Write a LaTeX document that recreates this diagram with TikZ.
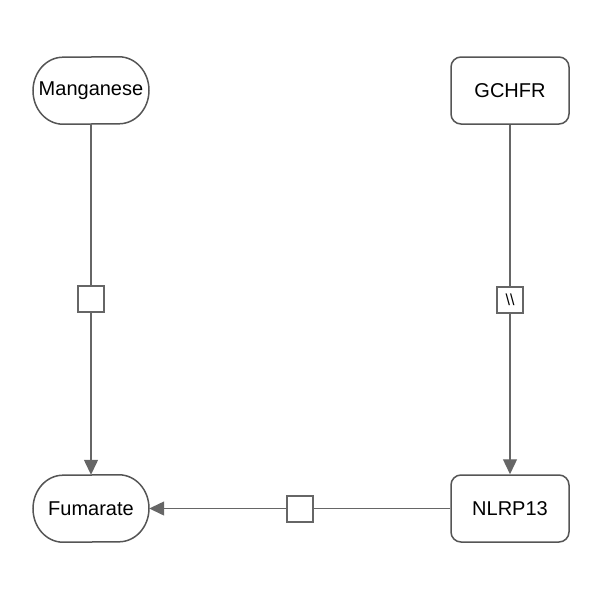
\documentclass[tikz,border=0pt]{standalone}
\usepackage{fontspec}
\setmainfont{Liberation Sans}
\usetikzlibrary{arrows.meta}
\definecolor{edgegray}{HTML}{666666}
\definecolor{bordergray}{HTML}{555555}
\begin{document}
\begin{tikzpicture}[x=1pt,y=-1pt,
  chem/.style={draw=none, minimum width=116pt, minimum height=67pt, inner sep=0pt, font=\fontsize{20}{23}\selectfont},
  chemline/.style={draw=bordergray, line width=1.5pt},
  gene/.style={draw=bordergray, line width=1.5pt, rounded corners=10pt, minimum width=118pt, minimum height=67pt, inner sep=0pt, font=\fontsize{20}{23}\selectfont},
  proc/.style={draw=edgegray, line width=2pt, fill=white, minimum width=26pt, minimum height=26pt, inner sep=0pt, font=\fontsize{16}{17}\selectfont},
  link/.style={draw=edgegray, line width=1.3pt},
  arr/.style={link, -{Triangle[length=15pt,width=14pt]}}
]
\useasboundingbox (0,0) rectangle (600,600);
\node[chem] (mn) at (91,90.5) {Manganese};
\node[gene] (gc) at (510,90.5) {GCHFR};
\node[chem] (fu) at (91,508.5) {Fumarate};
\node[gene] (nl) at (510,508.5) {NLRP13};
\draw[chemline] ([xshift=28pt]mn.north) arc[start angle=-90, end angle=90, x radius=30, y radius=33.5] -- ([xshift=-28pt]mn.south) arc[start angle=90, end angle=270, x radius=30, y radius=33.5] -- cycle;
\draw[chemline] ([xshift=28pt]fu.north) arc[start angle=-90, end angle=90, x radius=30, y radius=33.5] -- ([xshift=-28pt]fu.south) arc[start angle=90, end angle=270, x radius=30, y radius=33.5] -- cycle;
\node[proc] (p1) at (91,299) {};
\node[proc] (p2) at (510,299.5) {\textbackslash\textbackslash};
\node[proc] (p3) at (299.5,508.5) {};
\draw[link] (mn) -- (p1);
\draw[arr] (p1) -- (fu);
\draw[link] (gc) -- (p2);
\draw[arr] (p2) -- (nl);
\draw[link] (nl) -- (p3);
\draw[arr] (p3) -- (fu);
\end{tikzpicture}
\end{document}
